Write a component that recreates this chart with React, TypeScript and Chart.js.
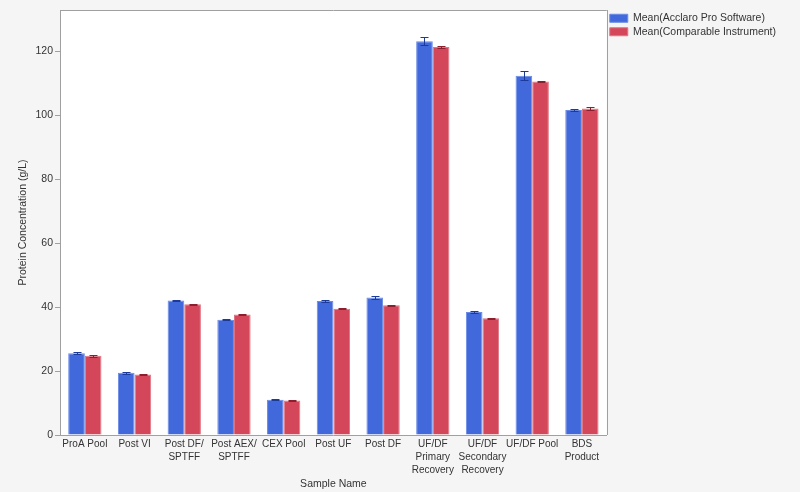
import { useRef, useEffect } from 'react';
import { Chart, registerables } from 'chart.js';

Chart.register(...registerables);

const sampleNames = [
  'ProA Pool',
  'Post VI',
  ['Post DF/', 'SPTFF'],
  ['Post AEX/', 'SPTFF'],
  'CEX Pool',
  'Post UF',
  'Post DF',
  ['UF/DF', 'Primary', 'Recovery'],
  ['UF/DF', 'Secondary', 'Recovery'],
  'UF/DF Pool',
  ['BDS', 'Product'],
];

const acclaroMean = [25.6, 19.5, 42.1, 36.1, 11.0, 41.9, 43.0, 123.2, 38.5, 112.4, 101.7];
const acclaroErr = [0.3, 0.3, 0.3, 0.2, 0.2, 0.4, 0.4, 1.3, 0.3, 1.4, 0.4];
const comparableMean = [24.8, 18.9, 40.9, 37.7, 10.8, 39.5, 40.6, 121.4, 36.5, 110.6, 102.2];
const comparableErr = [0.3, 0.2, 0.2, 0.3, 0.2, 0.2, 0.2, 0.2, 0.2, 0.2, 0.5];

const FONT = 'Liberation Sans, Arial, sans-serif';
const AXIS = '#a0a0a0';
const TEXT = '#333333';

const errorBars = {
  id: 'errorBars',
  afterDatasetsDraw(chart: any) {
    const { ctx } = chart;
    const y = chart.scales.y;
    chart.data.datasets.forEach((ds: any, di: number) => {
      const meta = chart.getDatasetMeta(di);
      ctx.save();
      ctx.strokeStyle = ds.errorColor;
      ctx.lineWidth = 1;
      meta.data.forEach((bar: any, i: number) => {
        const v = ds.data[i];
        const e = ds.errors[i];
        const top = Math.round(y.getPixelForValue(v + e)) + 0.5;
        const bot = Math.round(y.getPixelForValue(v - e)) + 0.5;
        const x = Math.round(bar.x) + 0.5;
        ctx.beginPath();
        ctx.moveTo(x, top);
        ctx.lineTo(x, bot);
        ctx.moveTo(x - 4, top);
        ctx.lineTo(x + 4, top);
        ctx.moveTo(x - 4, bot);
        ctx.lineTo(x + 4, bot);
        ctx.stroke();
      });
      ctx.restore();
    });
  },
};

const plotFrame = {
  id: 'plotFrame',
  beforeDraw(chart: any) {
    const { ctx, chartArea: a } = chart;
    ctx.save();
    ctx.fillStyle = '#ffffff';
    ctx.fillRect(a.left, a.top, a.right - a.left, a.bottom - a.top);
    ctx.restore();
  },
  afterDraw(chart: any) {
    const { ctx, chartArea: a } = chart;
    ctx.save();
    ctx.strokeStyle = AXIS;
    ctx.lineWidth = 1;
    ctx.beginPath();
    ctx.moveTo(a.left, Math.round(a.top) + 0.5);
    ctx.lineTo(a.right, Math.round(a.top) + 0.5);
    ctx.moveTo(Math.round(a.right) + 0.5, a.top);
    ctx.lineTo(Math.round(a.right) + 0.5, a.bottom);
    ctx.stroke();
    ctx.restore();
  },
};

export default function App() {
  const canvasRef = useRef<HTMLCanvasElement>(null);

  useEffect(() => {
    if (!canvasRef.current) return;
    const chart = new Chart(canvasRef.current, {
      type: 'bar',
      data: {
        labels: sampleNames,
        datasets: [
          {
            label: 'Mean(Acclaro Pro Software)',
            data: acclaroMean,
            errors: acclaroErr,
            errorColor: '#1c3a9a',
            backgroundColor: '#4169dc',
            borderColor: '#6a8ae4',
            borderWidth: 1,
            categoryPercentage: 0.67,
            barPercentage: 1,
          } as any,
          {
            label: 'Mean(Comparable Instrument)',
            data: comparableMean,
            errors: comparableErr,
            errorColor: '#8c1f2e',
            backgroundColor: '#d4475a',
            borderColor: '#e07482',
            borderWidth: 1,
            categoryPercentage: 0.67,
            barPercentage: 1,
          } as any,
        ],
      },
      options: {
        responsive: false,
        animation: false,
        layout: { padding: { top: 10, left: 0, right: 14, bottom: 0 } },
        plugins: {
          tooltip: { enabled: false },
          legend: {
            position: 'right',
            align: 'start',
            labels: {
              boxWidth: 18,
              boxHeight: 8,
              padding: 3,
              color: TEXT,
              font: { family: FONT, size: 10.5 },
            },
          },
        },
        scales: {
          x: {
            grid: { display: false, drawTicks: false },
            border: { color: AXIS },
            ticks: {
              color: TEXT,
              font: { family: FONT, size: 10, lineHeight: 1.3 },
              padding: 3,
              maxRotation: 0,
              autoSkip: false,
            },
            title: {
              display: true,
              text: 'Sample Name',
              color: TEXT,
              font: { family: FONT, size: 10.5 },
              padding: { top: 0, bottom: 2 },
            },
            afterFit: (s: any) => {
              s.height = 57;
            },
          },
          y: {
            min: 0,
            max: 133,
            grid: { drawOnChartArea: false, tickLength: 5, color: AXIS },
            border: { color: AXIS },
            ticks: {
              stepSize: 20,
              includeBounds: false,
              color: TEXT,
              font: { family: FONT, size: 10.5 },
              padding: 2,
            },
            title: {
              display: true,
              text: 'Protein Concentration (g/L)',
              color: TEXT,
              font: { family: FONT, size: 10.5 },
              padding: { top: 17, bottom: 0 },
            },
            afterFit: (s: any) => {
              s.width = 60;
            },
          },
        },
      },
      plugins: [plotFrame, errorBars],
    });
    return () => {
      chart.destroy();
    };
  }, []);

  return (
    <div style={{ position: 'fixed', left: 0, top: 0, width: 800, height: 492, background: '#f5f5f5' }}>
      <canvas ref={canvasRef} width={800} height={492} />
    </div>
  );
}
